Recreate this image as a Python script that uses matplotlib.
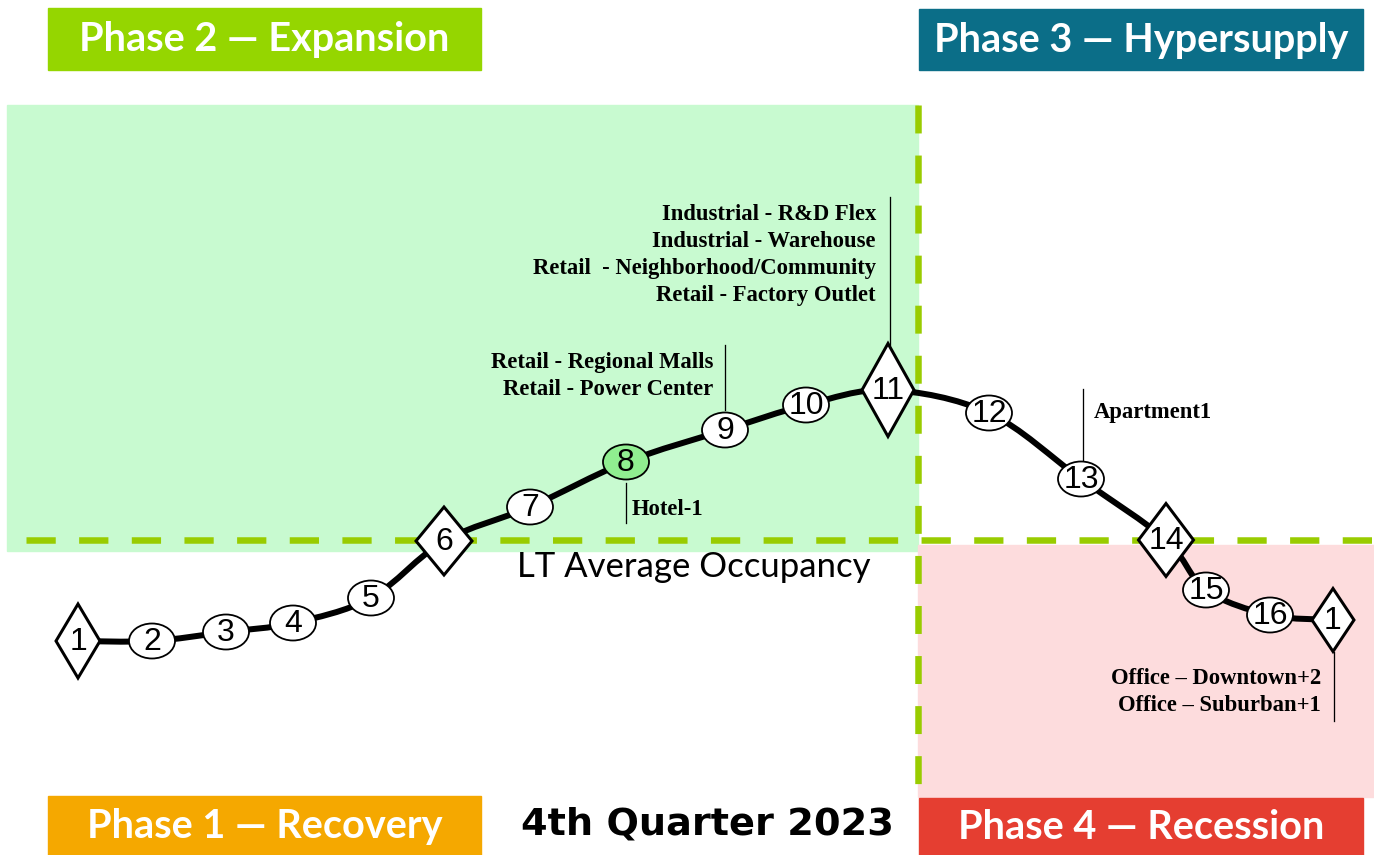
import numpy as np
import matplotlib.pyplot as plt
from matplotlib.patches import Rectangle, Ellipse, Polygon
from matplotlib.path import Path
from matplotlib.patches import PathPatch

# cycle positions (canvas pixels, y down)
node_labels = ['1', '2', '3', '4', '5', '6', '7', '8', '9', '10', '11', '12', '13', '14', '15', '16', '1']
node_x = [78, 152, 226, 293, 371, 444, 530, 626, 725, 806, 888, 989, 1081, 1166, 1206, 1270, 1333]
node_y = [641, 641, 632, 623, 598, 541, 507, 462, 430, 405, 390, 413, 479, 540, 590, 615, 620]
node_kind = ['d', 'e', 'e', 'e', 'e', 'd', 'e', 'e', 'e', 'e', 'd', 'e', 'e', 'd', 'e', 'e', 'd']

phase_titles = ['Phase 1 \u2014 Recovery', 'Phase 2 \u2014 Expansion',
                'Phase 3 \u2014 Hypersupply', 'Phase 4 \u2014 Recession']
phase_colors = ['#f5a800', '#95d600', '#0b6e88', '#e53e31']

# property types attached to cycle points
notes_11 = ['Industrial - R&D Flex', 'Industrial - Warehouse',
            'Retail  - Neighborhood/Community', 'Retail - Factory Outlet']
notes_9 = ['Retail - Regional Malls', 'Retail - Power Center']
notes_8 = ['Hotel-1']
notes_13 = ['Apartment1']
notes_1 = ['Office \u2013 Downtown+2', 'Office \u2013 Suburban+1']

W, H = 1374, 855
fig = plt.figure(figsize=(W / 100, H / 100), dpi=100)
ax = fig.add_axes([0, 0, 1, 1])
ax.set_xlim(0, W)
ax.set_ylim(H, 0)
ax.axis('off')

PX = 72 / 100  # points per pixel

# background regions
ax.add_patch(Rectangle((7, 105), 911, 446, color='#c8fad0', zorder=0))
ax.add_patch(Rectangle((918, 545), W - 918, 252, color='#fddcdd', zorder=0))

# phase boxes
boxes = [(48, 796, 433, 59), (48, 8, 433, 62), (919, 9, 444, 61), (919, 798, 444, 57)]
for (bx, by, bw, bh), title, col in zip(boxes, phase_titles, phase_colors):
    ax.add_patch(Rectangle((bx, by), bw, bh, color=col, zorder=1))
    ax.text(bx + bw / 2, by + bh / 2 + 1, title, color='white', fontsize=28.5,
            family='Lato', weight='bold', ha='center', va='center', zorder=2)

# long-term average occupancy and phase divider
ax.plot([26, W], [540, 540], color='#99cc00', lw=6.5 * PX, dashes=(4.5, 3.6),
        solid_capstyle='butt', dash_capstyle='butt', zorder=2)
ax.plot([918, 918], [105, 800], color='#99cc00', lw=6.5 * PX, dashes=(4.3, 3.4),
        dash_capstyle='butt', zorder=2)

ax.text(694, 567, 'LT Average Occupancy', fontsize=25, family='Lato',
        ha='center', va='center', zorder=3)
ax.text(707, 824, '4th Quarter 2023', fontsize=27.5, family='DejaVu Sans',
        weight='bold', ha='center', va='center', zorder=3)

# smooth cycle curve (Catmull-Rom through node centres)
pts = np.column_stack([node_x, node_y]).astype(float)
verts = [pts[0]]
codes = [Path.MOVETO]
for i in range(len(pts) - 1):
    p0 = pts[max(i - 1, 0)]
    p1 = pts[i]
    p2 = pts[i + 1]
    p3 = pts[min(i + 2, len(pts) - 1)]
    verts += [p1 + (p2 - p0) / 6, p2 - (p3 - p1) / 6, p2]
    codes += [Path.CURVE4] * 3
ax.add_patch(PathPatch(Path(verts, codes), fill=False, lw=6 * PX, color='black', zorder=4))

# markers
diamond_size = {0: (44, 74), 5: (56, 68), 10: (52, 93), 13: (55, 73), 16: (42, 63)}
for i, (lab, x, y, kind) in enumerate(zip(node_labels, node_x, node_y, node_kind)):
    if kind == 'd':
        dw, dh = diamond_size[i]
        ax.add_patch(Polygon([(x - dw / 2, y), (x, y - dh / 2), (x + dw / 2, y), (x, y + dh / 2)],
                             closed=True, fc='white', ec='black', lw=3 * PX, zorder=5))
    else:
        fc = '#90ee90' if lab == '8' else 'white'
        ax.add_patch(Ellipse((x, y), 46, 35, fc=fc, ec='black', lw=1.8 * PX, zorder=5))
    ax.text(x, y + 1, lab, fontsize=23, family='Liberation Sans', ha='center', va='center', zorder=6)

# annotation leaders and labels
serif = dict(family='Liberation Serif', weight='bold', fontsize=16.3, zorder=6)
ax.plot([890, 890], [197, 345], color='black', lw=1.3 * PX, zorder=3)
for k, t in enumerate(notes_11):
    ax.text(876, 214 + 27.3 * k, t, ha='right', va='center', **serif)
ax.plot([725, 725], [345, 410], color='black', lw=1.3 * PX, zorder=3)
for k, t in enumerate(notes_9):
    ax.text(713, 362 + 27.5 * k, t, ha='right', va='center', **serif)
ax.plot([626, 626], [483, 523], color='black', lw=1.3 * PX, zorder=3)
ax.text(632, 509, notes_8[0], ha='left', va='center', **serif)
ax.plot([1083, 1083], [389, 460], color='black', lw=1.3 * PX, zorder=3)
ax.text(1094, 412, notes_13[0], ha='left', va='center', **serif)
ax.plot([1334, 1334], [652, 721], color='black', lw=1.3 * PX, zorder=3)
for k, t in enumerate(notes_1):
    ax.text(1321, 678 + 27 * k, t, ha='right', va='center', **serif)

fig.savefig('out.png', dpi=100)
